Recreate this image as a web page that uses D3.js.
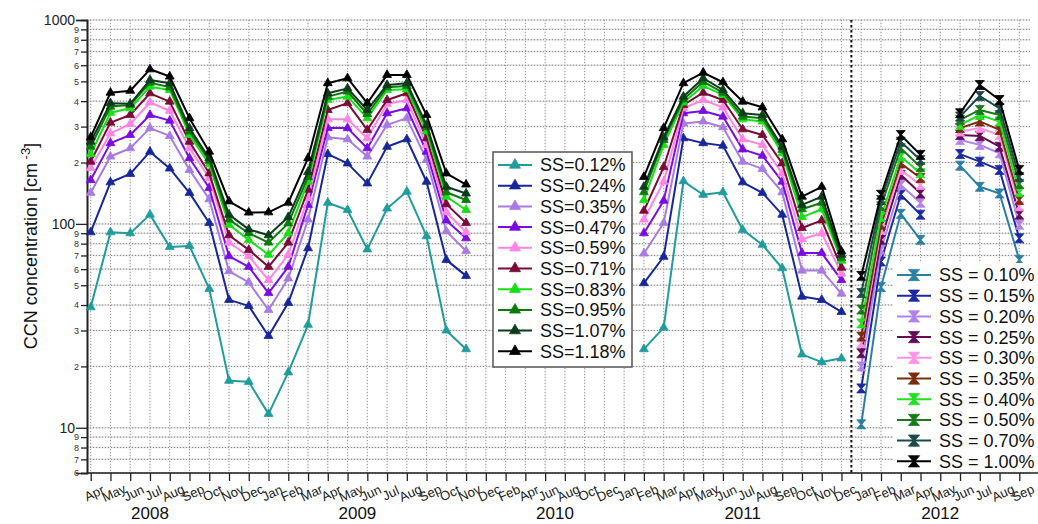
<!DOCTYPE html>
<html>
<head>
<meta charset="utf-8">
<script src="https://cdn.jsdelivr.net/npm/d3@7"></script>
<style>
  body { margin: 0; background: #fff; }
  svg { display: block; font-family: "Liberation Sans", Arial, sans-serif; }
</style>
</head>
<body>
<div id="chart"></div>
<script>
const width = 1038, height = 524;
const margin = {top: 20, right: 18, bottom: 51, left: 87};

// x ticks (2010 only every second month, as in the original axis)
const monthNames = ["Jan","Feb","Mar","Apr","May","Jun","Jul","Aug","Sep","Oct","Nov","Dec"];
const monthTicks = [
  "2008-04","2008-05","2008-06","2008-07","2008-08","2008-09","2008-10","2008-11","2008-12",
  "2009-01","2009-02","2009-03","2009-04","2009-05","2009-06","2009-07","2009-08","2009-09","2009-10","2009-11","2009-12",
  "2010-02","2010-04","2010-06","2010-08","2010-10","2010-12",
  "2011-01","2011-02","2011-03","2011-04","2011-05","2011-06","2011-07","2011-08","2011-09","2011-10","2011-11","2011-12",
  "2012-01","2012-02","2012-03","2012-04","2012-05","2012-06","2012-07","2012-08","2012-09"
];
const years = ["2008","2009","2010","2011","2012"];
const yearAnchors = [["2008-07","2008-07"],["2009-05","2009-06"],["2010-06","2010-08"],["2011-07","2011-07"],["2012-05","2012-05"]];

// first instrument (triangles)
const monthsA1 = ["2008-04","2008-05","2008-06","2008-07","2008-08","2008-09","2008-10","2008-11","2008-12",
  "2009-01","2009-02","2009-03","2009-04","2009-05","2009-06","2009-07","2009-08","2009-09","2009-10","2009-11"];
const monthsA2 = ["2011-02","2011-03","2011-04","2011-05","2011-06","2011-07","2011-08","2011-09","2011-10","2011-11","2011-12"];
const ssA = ["0.12%","0.24%","0.35%","0.47%","0.59%","0.71%","0.83%","0.95%","1.07%","1.18%"];
const colorsA = ["#1f9c9c","#17279a","#a97be2","#7a0ce2","#ff84e6","#7a0a36","#14e014","#0b7a0b","#0d3c1c","#000000"];
const valuesA = [
  [39,91,90,111,77,78,48,17,16.8,11.7,18.7,32,127,117,75,119,144,87,30,24.3,
   24.3,31,162,139,143,93.5,79,60.6,22.9,21,21.9],
  [91,160,176,226,187,142,101,42.4,39.6,28.2,41,76,220,198,158,239,260,161,66.6,55.6,
   51.2,69,263,249,242,160,142,111,44,42.4,37],
  [142,214,235,295,270,184,132,58.6,51.6,37.8,54,105,266,260,214,306,330,206,92,73.6,
   71.6,101,311,318,298,202,186,143,59,59,45.5],
  [164,249,273,342,321,210,150,69.4,61.6,45.8,61.6,124,295,295,235,349,369,226,104,85,
   90,130,349,358,336,232,216,161,72,72,53],
  [188,278,309,394,359,235,168,81,69.4,53,70.6,134,326,326,263,387,405,244,114,91,
   105,161,369,405,373,260,244,177,84,90,57],
  [202,314,342,437,398,253,177,88,74.6,61.6,81,147,362,391,289,405,437,263,125,101,
   116,190,383,440,405,291,273,198,95.5,104,61],
  [220,351,369,471,454,273,196,99,83.5,70.6,90,161,405,421,330,454,457,284,136,117,
   131,244,394,475,429,326,318,222,108,118,66],
  [239,376,383,493,468,284,204,105,90,81,100.6,170,421,446,346,468,475,298,143,131,
   143,258,408,498,440,336,330,231,118,127,68],
  [253,391,388,508,490,295,210,111,94,88,108,180,437,462,362,480,490,306,152,141,
   152,266,421,518,454,349,342,239,124,136,70.6],
  [266,440,450,573,528,330,226,129,113.7,114,127,210,490,518,391,538,538,342,177,156,
   170,295,490,552,495,398,373,260,136,152,73.3]
];

// second instrument (hourglass markers), 2012
const monthsB1 = ["2012-01","2012-02","2012-03","2012-04"];
const monthsB2 = ["2012-06","2012-07","2012-08","2012-09"];
const ssB = ["0.10%","0.15%","0.20%","0.25%","0.30%","0.35%","0.40%","0.50%","0.70%","1.00%"];
const colorsB = ["#2a80a2","#1a2aa2","#b183ea","#630c55","#ff92e4","#7a2c0c","#22e022","#1a7a1a","#1c4a48","#000000"];
const valuesB = [
  [10.4,49,112,83.5,193,152,141,66.6],
  [15.6,65.4,139,111,220,202,184,85],
  [20,74.6,155,127,258,244,222,99],
  [23.2,83.5,174,141,273,270,239,111],
  [26,93.5,184,155,284,295,273,122],
  [28,99,198,168,295,318,289,131],
  [32.5,108,214,177,306,342,318,143],
  [38,122,235,190,324,362,342,157],
  [45.8,131,253,206,336,424,369,170],
  [55.6,139,273,218,349,480,405,184]
];

const majorY = [10, 100, 1000];
const minorY = [6,7,8,9,20,30,40,50,60,70,80,90,200,300,400,500,600,700,800,900];

const svg = d3.select("#chart").append("svg")
  .attr("width", width).attr("height", height);

const x = d3.scalePoint().domain(monthTicks)
  .range([margin.left + 3.7, width - margin.right - 0.7]);
const y = d3.scaleLog().domain([6, 1000])
  .range([height - margin.bottom, margin.top]);

const plotRight = width - 8;

// grid: light solid lines under dotted ones
const grid = svg.append("g");
const allY = majorY.concat(minorY);
grid.selectAll("line.hs").data(allY).join("line")
  .attr("x1", margin.left).attr("x2", plotRight)
  .attr("y1", d => y(d)).attr("y2", d => y(d))
  .attr("stroke", "#dedede").attr("stroke-width", 1.5);
grid.selectAll("line.vs").data(monthTicks).join("line")
  .attr("x1", d => x(d)).attr("x2", d => x(d))
  .attr("y1", margin.top).attr("y2", y(6))
  .attr("stroke", "#ececec").attr("stroke-width", 1.2);
grid.selectAll("line.hd").data(allY).join("line")
  .attr("x1", margin.left).attr("x2", plotRight)
  .attr("y1", d => y(d)).attr("y2", d => y(d))
  .attr("stroke", "#8a8a8a").attr("stroke-width", 1)
  .attr("stroke-dasharray", "1,2");
grid.selectAll("line.vd").data(monthTicks).join("line")
  .attr("x1", d => x(d)).attr("x2", d => x(d))
  .attr("y1", margin.top).attr("y2", y(6))
  .attr("stroke", "#9a9a9a").attr("stroke-width", 1)
  .attr("stroke-dasharray", "1,2");

// separator between the two instruments
const sepX = (x("2011-12") + x("2012-01")) / 2;
svg.append("line")
  .attr("x1", sepX).attr("x2", sepX)
  .attr("y1", margin.top).attr("y2", y(6))
  .attr("stroke", "#111").attr("stroke-width", 2)
  .attr("stroke-dasharray", "2.5,2.5");

// axes
const yMajor = svg.append("g")
  .attr("transform", `translate(${margin.left},0)`)
  .call(d3.axisLeft(y).tickValues(majorY).tickFormat(d3.format("d")).tickSize(11).tickPadding(1));
yMajor.selectAll("text").attr("font-size", 14).attr("fill", "#222");
const yMinor = svg.append("g")
  .attr("transform", `translate(${margin.left},0)`)
  .call(d3.axisLeft(y).tickValues(minorY)
    .tickFormat(d => String(d).charAt(0)).tickSize(6).tickPadding(2));
yMinor.selectAll("text").attr("font-size", 9).attr("fill", "#333");
[yMajor, yMinor].forEach(g => {
  g.select(".domain").attr("stroke", "#222").attr("stroke-width", 1.6);
  g.selectAll(".tick line").attr("stroke", "#222").attr("stroke-width", 1.3);
});

const xAxis = svg.append("g")
  .attr("transform", `translate(0,${y(6)})`)
  .call(d3.axisBottom(x).tickSize(8)
    .tickFormat(d => monthNames[+d.slice(5) - 1]));
xAxis.select(".domain").attr("d", `M${margin.left},0H${width}`)
  .attr("stroke", "#222").attr("stroke-width", 1.6);
xAxis.selectAll(".tick line").attr("stroke", "#222").attr("stroke-width", 1.3);
xAxis.selectAll("text")
  .attr("font-size", 13).attr("fill", "#222")
  .attr("y", 0).attr("dy", "0.35em")
  .attr("text-anchor", "middle")
  .attr("transform", "translate(3,20) rotate(-25)");

svg.append("g").selectAll("text").data(years).join("text")
  .attr("x", (d, i) => (x(yearAnchors[i][0]) + x(yearAnchors[i][1])) / 2)
  .attr("y", 519)
  .attr("text-anchor", "middle")
  .attr("font-size", 17).attr("fill", "#111")
  .text(d => d);

// y title
const yTitle = svg.append("text")
  .attr("transform", "translate(37,246) rotate(-90)")
  .attr("text-anchor", "middle")
  .attr("font-size", 18).attr("fill", "#111");
yTitle.append("tspan").text("CCN concentration [cm");
yTitle.append("tspan").attr("font-size", 13).attr("baseline-shift", "super").text(" -3");
yTitle.append("tspan").text("]");

// markers
const triPath = d3.symbol(d3.symbolTriangle).size(34)();
const hourglass = "M-4.5,-4.5L4.5,-4.5L0.6,0L4.5,4.5L-4.5,4.5L-0.6,0Z";

const line = d3.line().x(d => x(d[0])).y(d => y(d[1]));

function drawSeries(months, vals, color, marker) {
  const pts = months.map((m, i) => [m, vals[i]]);
  svg.append("path").datum(pts)
    .attr("d", line)
    .attr("fill", "none").attr("stroke", color)
    .attr("stroke-width", 2).attr("stroke-linejoin", "round");
  svg.append("g").selectAll("path").data(pts).join("path")
    .attr("d", marker)
    .attr("transform", d => `translate(${x(d[0])},${y(d[1])})`)
    .attr("fill", color).attr("stroke", color).attr("stroke-width", 0.8);
}

valuesA.forEach((vals, k) => {
  drawSeries(monthsA1, vals.slice(0, monthsA1.length), colorsA[k], triPath);
  drawSeries(monthsA2, vals.slice(monthsA1.length), colorsA[k], triPath);
});
valuesB.forEach((vals, k) => {
  drawSeries(monthsB1, vals.slice(0, monthsB1.length), colorsB[k], hourglass);
  drawSeries(monthsB2, vals.slice(monthsB1.length), colorsB[k], hourglass);
});

// legends
function legend(g, labels, colors, marker, textFmt) {
  const rows = g.selectAll("g").data(labels).join("g")
    .attr("transform", (d, i) => `translate(0,${i * 20.7})`);
  rows.append("line")
    .attr("x1", 0).attr("x2", 34)
    .attr("stroke", (d, i) => colors[i]).attr("stroke-width", 2);
  rows.append("path")
    .attr("d", marker)
    .attr("transform", "translate(17,0) scale(1.25)")
    .attr("fill", (d, i) => colors[i]).attr("stroke", (d, i) => colors[i]).attr("stroke-width", 0.6);
  rows.append("text")
    .attr("x", 42).attr("dy", "0.36em")
    .attr("font-size", 18).attr("fill", "#111")
    .text(textFmt);
}

const legA = svg.append("g");
legA.append("rect")
  .attr("x", 493).attr("y", 152).attr("width", 139).attr("height", 215)
  .attr("fill", "#fff").attr("stroke", "#555").attr("stroke-width", 1.5);
legend(legA.append("g").attr("transform", "translate(498,165)"),
  ssA, colorsA, triPath, d => `SS=${d}`);

const legB = svg.append("g");
legB.append("rect")
  .attr("x", 893).attr("y", 263).attr("width", 145).attr("height", 209)
  .attr("fill", "#fff");
legend(legB.append("g").attr("transform", "translate(897,275)"),
  ssB, colorsB, hourglass, d => `SS = ${d}`);
</script>
</body>
</html>
